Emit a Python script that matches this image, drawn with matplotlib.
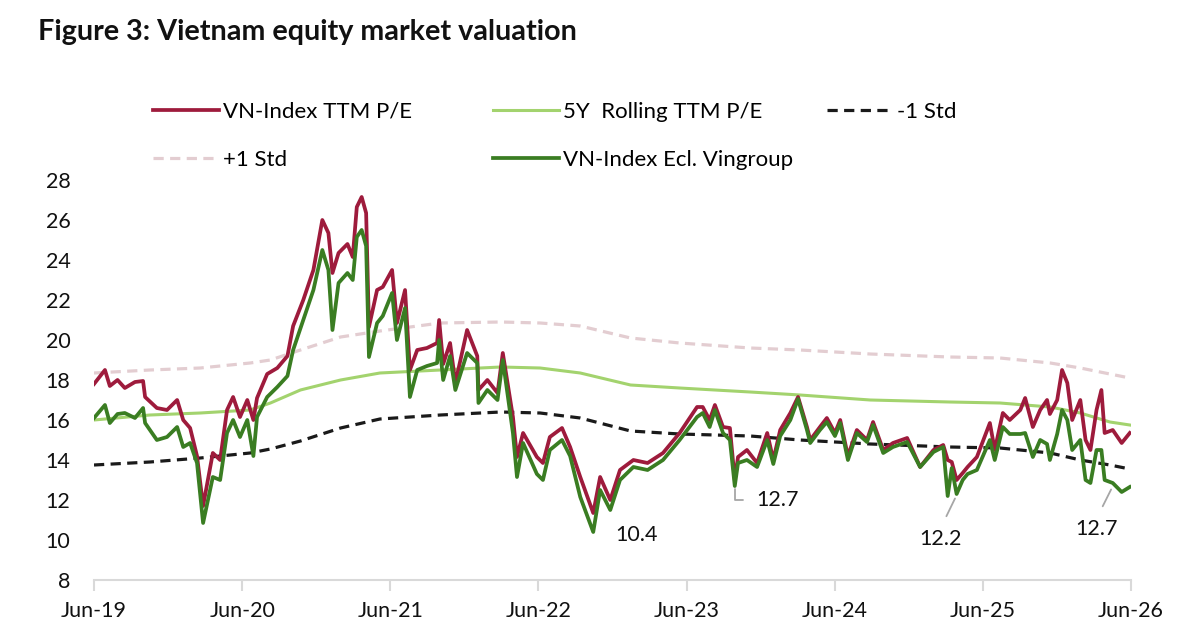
import matplotlib
matplotlib.use("Agg")
import matplotlib.pyplot as plt
import matplotlib.dates as mdates
import pandas as pd

plt.rcParams['font.family'] = ['Lato', 'DejaVu Sans']

# --- P/E readings ---
pe_dates = [
    "2019-06-01", "2019-06-28", "2019-07-10", "2019-07-29", "2019-08-16", "2019-09-10",
    "2019-09-30", "2019-10-05", "2019-11-03", "2019-11-28", "2019-12-23", "2020-01-07",
    "2020-01-24", "2020-02-10", "2020-02-25", "2020-03-20", "2020-04-07", "2020-04-24",
    "2020-05-09", "2020-05-26", "2020-06-13", "2020-06-28", "2020-07-07", "2020-08-01",
    "2020-08-26", "2020-09-20", "2020-10-04", "2020-10-29", "2020-11-23", "2020-12-15",
    "2020-12-30", "2021-01-09", "2021-01-24", "2021-02-15", "2021-02-28", "2021-03-10",
    "2021-03-22", "2021-04-02", "2021-04-09", "2021-04-29", "2021-05-13", "2021-06-05",
    "2021-06-17", "2021-07-07", "2021-07-19", "2021-08-06", "2021-08-30", "2021-09-24",
    "2021-09-29", "2021-10-09", "2021-10-26", "2021-11-08", "2021-12-07", "2022-01-01",
    "2022-01-04", "2022-01-26", "2022-02-20", "2022-03-05", "2022-03-30", "2022-04-09",
    "2022-04-24", "2022-05-28", "2022-06-12", "2022-06-29", "2022-07-29", "2022-08-18",
    "2022-09-12", "2022-10-14", "2022-10-31", "2022-11-25", "2022-12-19", "2023-01-21",
    "2023-02-25", "2023-04-04", "2023-05-15", "2023-06-27", "2023-07-11", "2023-07-28",
    "2023-08-10", "2023-08-30", "2023-09-16", "2023-09-28", "2023-10-06", "2023-10-28",
    "2023-11-22", "2023-12-17", "2024-01-01", "2024-01-18", "2024-02-12", "2024-03-02",
    "2024-03-24", "2024-04-01", "2024-04-25", "2024-05-12", "2024-06-01", "2024-06-14",
    "2024-07-03", "2024-07-25", "2024-08-19", "2024-09-03", "2024-09-28", "2024-10-22",
    "2024-11-26", "2024-12-28", "2025-01-30", "2025-02-23", "2025-03-06", "2025-03-16",
    "2025-03-28", "2025-04-12", "2025-04-24", "2025-05-17", "2025-06-18", "2025-06-30",
    "2025-07-20", "2025-08-06", "2025-09-01", "2025-09-13", "2025-10-02", "2025-10-20",
    "2025-11-06", "2025-11-13", "2025-12-01", "2025-12-13", "2025-12-26", "2026-01-07",
    "2026-01-27", "2026-02-09", "2026-02-21", "2026-03-08", "2026-03-20", "2026-03-28",
    "2026-04-17", "2026-05-09", "2026-05-29",
]
pe_vnindex = [
    17.8, 18.5, 17.7, 18.0, 17.6, 17.9, 17.95, 17.15, 16.6, 16.5, 17.0, 16.0,
    15.6, 14.2, 11.7, 14.35, 14.0, 16.5, 17.15, 16.15, 17.0, 16.0, 17.1, 18.3,
    18.6, 19.2, 20.7, 22.0, 23.5, 26.0, 25.35, 23.35, 24.35, 24.8, 24.15, 26.65,
    27.15, 26.35, 20.65, 22.5, 22.65, 23.5, 20.85, 22.5, 18.5, 19.5, 19.6, 19.85,
    21.0, 18.8, 19.85, 17.85, 20.5, 19.2, 17.5, 18.0, 17.35, 19.35, 16.15, 14.15,
    15.35, 14.15, 13.85, 15.15, 15.6, 14.65, 13.15, 11.35, 13.15, 12.0, 13.5, 14.0,
    13.85, 14.35, 15.35, 16.65, 16.65, 16.0, 16.75, 15.65, 15.6, 13.0, 14.15, 14.5,
    13.85, 15.35, 14.0, 15.5, 16.35, 17.15, 15.65, 15.0, 15.65, 16.1, 15.35, 16.0,
    14.2, 15.5, 15.0, 15.9, 14.5, 14.85, 15.1, 13.65, 14.5, 14.75, 14.0, 13.9,
    13.0, 13.35, 13.65, 14.15, 15.85, 14.5, 16.35, 16.0, 16.5, 17.1, 15.65, 16.5,
    17.0, 16.3, 17.0, 18.5, 17.85, 16.0, 17.0, 15.0, 14.5, 16.5, 17.5, 15.35,
    15.5, 14.85, 15.35,
]
pe_ex_vingroup = [
    16.1, 16.75, 15.85, 16.3, 16.35, 16.1, 16.6, 15.85, 15.0, 15.15, 15.65, 14.65,
    14.85, 13.85, 10.85, 13.15, 13.0, 15.35, 16.0, 15.15, 16.0, 14.2, 16.15, 17.15,
    17.65, 18.2, 19.5, 21.0, 22.5, 24.5, 23.5, 20.5, 22.85, 23.35, 23.0, 25.15,
    25.5, 24.7, 19.15, 20.85, 21.2, 22.35, 20.0, 21.6, 17.15, 18.5, 18.7, 18.85,
    20.0, 18.0, 19.2, 17.5, 19.35, 18.85, 16.85, 17.5, 17.0, 19.0, 15.35, 13.15,
    14.85, 13.3, 13.0, 14.5, 15.0, 14.2, 12.15, 10.4, 12.5, 11.5, 13.0, 13.65,
    13.5, 14.0, 15.0, 16.15, 16.35, 15.65, 16.5, 15.35, 15.0, 12.7, 13.85, 14.0,
    13.65, 15.0, 13.8, 15.2, 16.0, 17.05, 15.5, 14.85, 15.5, 15.9, 15.2, 15.85,
    14.0, 15.35, 14.9, 15.75, 14.35, 14.65, 14.9, 13.65, 14.4, 14.65, 12.2, 13.6,
    12.3, 13.0, 13.3, 13.5, 15.0, 14.0, 15.65, 15.3, 15.3, 15.35, 14.15, 15.0,
    14.8, 14.0, 15.3, 16.5, 16.0, 14.5, 15.0, 13.0, 12.85, 14.5, 14.5, 13.0,
    12.85, 12.4, 12.65,
]

# --- rolling mean and +/- 1 std bands ---
band_dates = [
    "2019-06-01", "2019-10-17", "2020-02-18", "2020-06-20", "2020-08-09", "2020-10-22",
    "2021-01-29", "2021-05-06", "2021-10-02", "2022-02-28", "2022-06-05", "2022-09-12",
    "2023-01-14", "2023-05-15", "2023-11-05", "2024-03-07", "2024-08-27", "2025-03-11",
    "2025-07-13", "2025-11-14", "2026-01-27", "2026-04-10", "2026-05-29",
]
pe_5y_rolling = [16.0, 16.25, 16.35, 16.5, 16.85, 17.5, 18.0, 18.35, 18.5, 18.65, 18.6, 18.35,
                 17.75, 17.6, 17.4, 17.25, 17.0, 16.9, 16.85, 16.65, 16.35, 15.9, 15.75]
pe_plus_1std = [18.35, 18.5, 18.6, 18.85, 19.0, 19.5, 20.15, 20.45, 20.85, 20.9, 20.85, 20.7,
                20.1, 19.85, 19.6, 19.5, 19.3, 19.15, 19.1, 18.85, 18.6, 18.3, 18.1]
pe_minus_1std = [13.75, 13.9, 14.1, 14.35, 14.55, 14.95, 15.6, 16.05, 16.25, 16.4, 16.35, 16.1,
                 15.45, 15.3, 15.2, 15.0, 14.8, 14.65, 14.6, 14.35, 14.0, 13.75, 13.55]

tick_dates = ["2019-06-01", "2020-06-01", "2021-06-01", "2022-06-01",
              "2023-06-01", "2024-06-01", "2025-06-01", "2026-06-01"]
y_ticks = [8, 10, 12, 14, 16, 18, 20, 22, 24, 26, 28]

# low-point call-outs
callout_dates = ["2022-10-14", "2023-09-28", "2025-03-27", "2026-04-16"]
callout_values = [10.4, 12.7, 12.2, 12.65]
callout_labels = ["10.4", "12.7", "12.2", "12.7"]

RED = "#9e1b3c"
DKGREEN = "#3a7d22"
LTGREEN = "#a3d36e"
PINK = "#e3cdd1"
GRID = "#d9d9d9"
FS = 15.5
LEG_FS = 16

pe_dt = pd.to_datetime(pe_dates)
band_dt = pd.to_datetime(band_dates)

fig = plt.figure(figsize=(12, 6.3), dpi=100)
ax = fig.add_axes([94 / 1200, 50 / 630, 1037 / 1200, 400 / 630])

dash = (3.2, 2.0)
ax.plot(band_dt, pe_plus_1std, color=PINK, lw=2.3, dashes=dash, label="+1 Std", zorder=2)
ax.plot(band_dt, pe_minus_1std, color="#1a1a1a", lw=2.3, dashes=dash, label="-1 Std", zorder=2)
ax.plot(band_dt, pe_5y_rolling, color=LTGREEN, lw=2.2, label="5Y  Rolling TTM P/E", zorder=2)
ax.plot(pe_dt, pe_vnindex, color=RED, lw=2.7, label="VN-Index TTM P/E", zorder=3)
ax.plot(pe_dt, pe_ex_vingroup, color=DKGREEN, lw=2.7, label="VN-Index Ecl. Vingroup", zorder=4)

ax.set_xlim(pd.Timestamp(tick_dates[0]), pd.Timestamp(tick_dates[-1]))
ax.set_ylim(y_ticks[0], y_ticks[-1])
ax.set_yticks(y_ticks)
ax.set_xticks(pd.to_datetime(tick_dates))
ax.xaxis.set_major_formatter(mdates.DateFormatter("%b-%y"))

for s in ["top", "right", "left"]:
    ax.spines[s].set_visible(False)
ax.spines["bottom"].set_color(GRID)
ax.spines["bottom"].set_linewidth(1.5)
ax.tick_params(axis="x", direction="out", length=8, width=1.5, color=GRID,
               labelsize=FS, pad=7, labelcolor="#111111")
ax.tick_params(axis="y", length=0, labelsize=FS, pad=17, labelcolor="#111111")

# call-outs with thin grey leaders
offsets = [(22, -3), (22, -14), (-16, -43), (-16, -42)]
conns = ["arc3", "angle,angleA=0,angleB=90,rad=0", "arc3", "arc3"]
has = ["left", "left", "center", "center"]
for d, v, lab, off, cs, ha in zip(callout_dates, callout_values, callout_labels, offsets, conns, has):
    arrow = None
    if lab != "10.4":
        arrow = dict(arrowstyle="-", color="#a6a6a6", lw=1.3, shrinkA=8, shrinkB=2,
                     connectionstyle=cs, relpos=(0, 0.5) if ha == "left" else (0.5, 1))
    ax.annotate(lab, xy=(pd.Timestamp(d), v), xytext=off, textcoords="offset pixels",
                ha=ha, va="center", fontsize=FS, color="#111111", arrowprops=arrow)

# legend laid out in three column blocks
handles, labels = ax.get_legend_handles_labels()
hmap = dict(zip(labels, handles))
cols = [(["VN-Index TTM P/E", "+1 Std"], 153),
        (["5Y  Rolling TTM P/E", "VN-Index Ecl. Vingroup"], 493),
        (["-1 Std"], 827)]
for labs, xpix in cols:
    fig.legend([hmap[l] for l in labs], labs, loc="upper left",
               bbox_to_anchor=(xpix / 1200, 1 - 102 / 630), frameon=False,
               fontsize=LEG_FS, handlelength=2.95, handletextpad=0.22, labelspacing=1.25,
               borderpad=0, borderaxespad=0)

fig.text(38 / 1200, 1 - 32 / 630, "Figure 3: Vietnam equity market valuation",
         fontsize=20.7, fontweight="bold", color="#111111", va="center", ha="left")

fig.savefig("out.png", dpi=100)
